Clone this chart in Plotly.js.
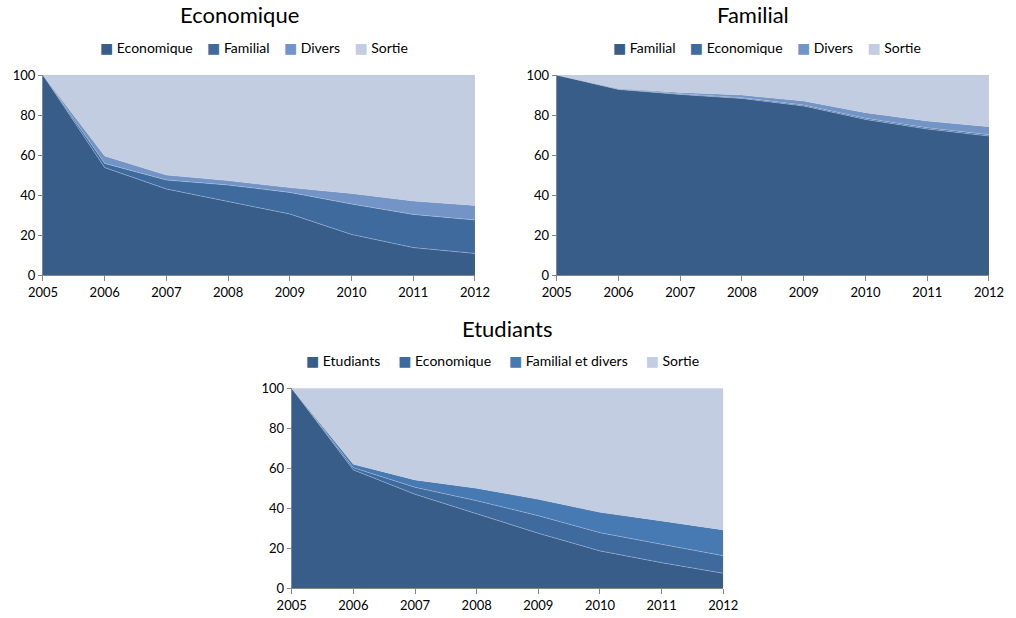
<!DOCTYPE html>
<html>
<head>
<meta charset="utf-8">
<script src="https://cdn.plot.ly/plotly-3.0.1.min.js"></script>
<style>
  html, body { margin: 0; padding: 0; background: #ffffff; }
  #chart { width: 1016px; height: 618px; }
</style>
</head>
<body>
<div id="chart"></div>
<script>
// Years shared by the three panels
const years = [2005, 2006, 2007, 2008, 2009, 2010, 2011, 2012];

// Panel 1 : entrants "Economique"
const eco_economique = [100, 53.7, 43.0, 36.7, 30.5, 20.3, 13.7, 10.8];
const eco_familial   = [0, 2.1, 4.5, 8.3, 10.8, 15.2, 16.6, 16.7];
const eco_divers     = [0, 3.7, 2.5, 2.2, 2.4, 5.3, 6.7, 7.3];
const eco_sortie     = [0, 40.5, 50.0, 52.8, 56.3, 59.2, 63.0, 65.2];

// Panel 2 : entrants "Familial"
const fam_familial   = [100, 92.8, 90.3, 88.3, 84.5, 77.8, 73.0, 69.5];
const fam_economique = [0, 0.2, 0.3, 0.4, 0.5, 0.6, 0.6, 0.7];
const fam_divers     = [0, 0.3, 0.7, 1.3, 2.0, 2.8, 3.4, 4.0];
const fam_sortie     = [0, 6.7, 8.7, 10.0, 13.0, 18.8, 23.0, 25.8];

// Panel 3 : entrants "Etudiants"
const etu_etudiants  = [100, 59.2, 47.0, 37.2, 27.5, 18.7, 12.8, 7.5];
const etu_economique = [0, 1.1, 3.5, 6.6, 8.8, 9.1, 9.2, 8.8];
const etu_famdivers  = [0, 1.7, 3.7, 6.2, 8.2, 10.2, 11.7, 12.9];
const etu_sortie     = [0, 38.0, 45.8, 50.0, 55.5, 62.0, 66.3, 70.8];

const panelTitles = ['Economique', 'Familial', 'Etudiants'];
const names1 = ['Economique', 'Familial', 'Divers', 'Sortie'];
const names2 = ['Familial', 'Economique', 'Divers', 'Sortie'];
const names3 = ['Etudiants', 'Economique', 'Familial et divers', 'Sortie'];

const C_DARK = '#395d89';
const C_MID = '#3f6a9e';
const C_LIGHT = '#7394c6';
const C_BRIGHT = '#4779b2';
const C_SORTIE = '#c3cde1';
const colors12 = [C_DARK, C_MID, C_LIGHT, C_SORTIE];
const colors3 = [C_DARK, C_MID, C_BRIGHT, C_SORTIE];

const FONT = 'Lato, "Open Sans", sans-serif';

function area(name, ys, color, xa, ya, group) {
  return {
    type: 'scatter', mode: 'lines', x: years, y: ys, name: name,
    stackgroup: group, fillcolor: color,
    line: { color: 'rgba(190,205,228,0.7)', width: 0.6 },
    xaxis: xa, yaxis: ya, showlegend: false,
    hoverinfo: 'x+y+name'
  };
}

function panel(names, series, colors, xa, ya, group) {
  return series.map((ys, i) => area(names[i], ys, colors[i], xa, ya, group));
}

const traces = [].concat(
  panel(names1, [eco_economique, eco_familial, eco_divers, eco_sortie], colors12, 'x', 'y', 'a'),
  panel(names2, [fam_familial, fam_economique, fam_divers, fam_sortie], colors12, 'x2', 'y2', 'b'),
  panel(names3, [etu_etudiants, etu_economique, etu_famdivers, etu_sortie], colors3, 'x3', 'y3', 'c')
);

function xAxis(domain, anchor) {
  return {
    domain: domain, anchor: anchor, range: [2005, 2012], dtick: 1, tick0: 2005,
    showline: true, linecolor: '#868686', linewidth: 1,
    ticks: 'outside', ticklen: 5, tickcolor: '#868686',
    showgrid: false, zeroline: false, fixedrange: true,
    tickfont: { family: FONT, size: 13, color: '#000' }
  };
}
function yAxis(domain, anchor) {
  return {
    domain: domain, anchor: anchor, range: [0, 100], dtick: 20,
    showline: true, linecolor: '#868686', linewidth: 1,
    ticks: 'outside', ticklen: 4, tickcolor: '#868686',
    showgrid: true, gridcolor: '#d9d9d9', zeroline: false, fixedrange: true,
    tickfont: { family: FONT, size: 13, color: '#000' }
  };
}

// One-line key: coloured square glyph followed by the series name
function keyLine(names, colors, spaces) {
  const gap = '&nbsp;'.repeat(spaces);
  return names.map((n, i) =>
    `<span style="color:${colors[i]};font-family:'DejaVu Sans'">■</span>&nbsp;${n}`
  ).join(gap);
}

const topY = [0.555, 0.8786];
const botY = [0.0481, 0.3717];

const textAnn = (text, x, y, size) => ({
  text: text, x: x, y: y, xref: 'paper', yref: 'paper',
  xanchor: 'center', yanchor: 'middle', showarrow: false,
  font: { family: FONT, size: size, color: '#000' }
});

const layout = {
  width: 1016, height: 618,
  margin: { l: 0, r: 0, t: 0, b: 0 },
  paper_bgcolor: '#ffffff', plot_bgcolor: '#ffffff',
  font: { family: FONT, color: '#000' },
  showlegend: false,
  xaxis: xAxis([0.0423, 0.4675], 'y'),
  yaxis: yAxis(topY, 'x'),
  xaxis2: xAxis([0.548, 0.9734], 'y2'),
  yaxis2: yAxis(topY, 'x2'),
  xaxis3: xAxis([0.2871, 0.7119], 'y3'),
  yaxis3: yAxis(botY, 'x3'),
  annotations: [
    textAnn(panelTitles[0], 0.236, 1 - 15 / 618, 22),
    textAnn(panelTitles[1], 0.741, 1 - 15 / 618, 22),
    textAnn(panelTitles[2], 0.499, 1 - 328 / 618, 22),
    textAnn(keyLine(names1, colors12, 4), 0.250, 1 - 47 / 618, 14),
    textAnn(keyLine(names2, colors12, 4), 0.755, 1 - 47 / 618, 14),
    textAnn(keyLine(names3, colors3, 5), 0.495, 1 - 360 / 618, 14)
  ]
};

Plotly.newPlot('chart', traces, layout, { displayModeBar: false, staticPlot: true });
</script>
</body>
</html>
